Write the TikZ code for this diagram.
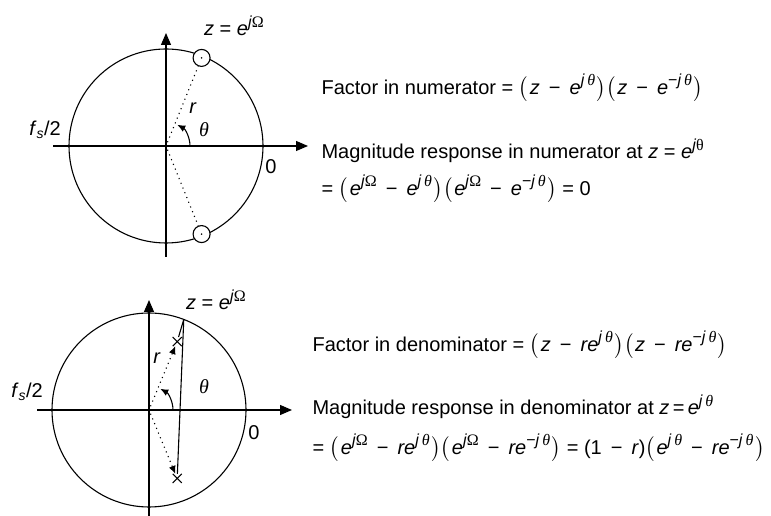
\documentclass[tikz,border=0pt]{standalone}
\usepackage{amsmath}
\usepackage{fontspec}
\setmainfont{Liberation Sans}
\newfontfamily\grk{Liberation Serif}
\usetikzlibrary{positioning,arrows.meta,shapes.misc,calc}
\newcommand{\iv}[1]{\textit{#1}}
\newcommand{\thv}{{\grk\itshape θ}}
\newcommand{\Omv}{{\grk Ω}}
\newcommand{\pw}[1]{\raisebox{0.42em}{\fontsize{16}{16}\selectfont #1}}
\newcommand{\mn}{\hspace{0.45em}−\hspace{0.45em}}
\newcommand{\lp}{$\bigl($\hspace{0.08em}}
\newcommand{\rp}{\hspace{0.08em}$\bigr)$}

\begin{document}
\begin{tikzpicture}[x=1pt, y=1pt, line width=1.1pt,
    every node/.style={font=\fontsize{20}{24}\selectfont, inner sep=1pt},
    axis/.style={-{Triangle[length=12pt,width=10pt]}},
    zeromark/.style={circle, draw, fill=white, minimum size=17pt, inner sep=0pt},
    polemark/.style={cross out, draw, minimum size=8pt, inner sep=0pt},
    txt/.style={anchor=west, inner sep=0pt}]
    \useasboundingbox (0,0) rectangle (771,516);

    \coordinate (o1) at (166,370);
    \draw (o1) circle[radius=97];
    \draw[axis] (o1) ++(-113,0) -- ++(255,0);
    \draw[axis] (o1) ++(0,-111) -- ++(0,224);
    \node[zeromark] (z1) at ($(o1)+(68:95)$) {};
    \node[zeromark] (z2) at ($(o1)+(-68:95)$) {};
    \fill (z1) circle[radius=0.9];
    \fill (z2) circle[radius=0.9];
    \draw[loosely dotted, shorten <=4pt] (o1) -- (z1);
    \draw[loosely dotted, shorten <=4pt] (o1) -- (z2);
    \draw[-{Latex[length=8pt,width=7pt]}] ($(o1)+(24,0)$) arc[start angle=0, end angle=62, radius=24];
    \node (lz1) at (234,490) {\iv{z} = \iv{e}\pw{\iv{j}\Omv}};
    \node (r1) at (193,408) {\iv{r}};
    \node (th1) at (204,386) {\thv};
    \node (fs1) at (45,386) {\iv{f}$_{\text{\iv{s}}}$/2};
    \node (zero1) at (271,349) {0};

    \node[txt] (fn) at (321,428) {Factor in numerator = \lp\iv{z}\mn\iv{e}\pw{\iv{j}\,\thv}\rp\lp\iv{z}\mn\iv{e}\pw{−\iv{j}\,\thv}\rp};
    \node[txt] (mn) at (321,365) {Magnitude response in numerator at \iv{z} = \iv{e}\pw{\iv{j}{\grk θ}}};
    \node[txt] (en) at (321,327) {= \lp\iv{e}\pw{\iv{j}\Omv}\mn\iv{e}\pw{\iv{j}\,\thv}\rp\lp\iv{e}\pw{\iv{j}\Omv}\mn\iv{e}\pw{−\iv{j}\,\thv}\rp{} = 0};

    \coordinate (o2) at (149,106);
    \draw (o2) circle[radius=97];
    \draw[axis] (o2) ++(-112,0) -- ++(255,0);
    \draw[axis] (o2) ++(0,-106) -- ++(0,216);
    \node[polemark] (p1) at ($(o2)+(67.6:74)$) {};
    \node[polemark] (p2) at ($(o2)+(-67.6:74)$) {};
    \coordinate (pz) at ($(o2)+(69:97)$);
    \draw[loosely dotted, shorten <=4pt, -{Latex[length=8pt,width=7pt]}] (o2) -- (p1);
    \draw[loosely dotted, shorten <=4pt, -{Latex[length=8pt,width=7pt]}] (o2) -- (p2);
    \draw (pz) -- (p1);
    \draw (pz) -- (p2);
    \draw[-{Latex[length=8pt,width=7pt]}] ($(o2)+(24,0)$) arc[start angle=0, end angle=62, radius=24];
    \node (lz2) at (216,216) {\iv{z} = \iv{e}\pw{\iv{j}\Omv}};
    \node (r2) at (157,158) {\iv{r}};
    \node (th2) at (204,129) {\thv};
    \node (fs2) at (27,124) {\iv{f}$_{\text{\iv{s}}}$/2};
    \node (zero2) at (254,83) {0};

    \node[txt] (fd) at (312,171) {Factor in denominator = \lp\iv{z}\mn\iv{re}\pw{\iv{j}\,\thv}\rp\lp\iv{z}\mn\iv{re}\pw{−\iv{j}\,\thv}\rp};
    \node[txt] (md) at (312,109) {Magnitude response in denominator at \iv{z}\,=\,\iv{e}\pw{\iv{j}\,\thv}};
    \node[txt] (ed) at (312,68) {= \lp\iv{e}\pw{\iv{j}\Omv}\mn\iv{re}\pw{\iv{j}\,\thv}\rp\lp\iv{e}\pw{\iv{j}\Omv}\mn\iv{re}\pw{−\iv{j}\,\thv}\rp{} = (1\mn\iv{r})\lp\iv{e}\pw{\iv{j}\,\thv}\mn\iv{re}\pw{−\iv{j}\,\thv}\rp};
\end{tikzpicture}
\end{document}
